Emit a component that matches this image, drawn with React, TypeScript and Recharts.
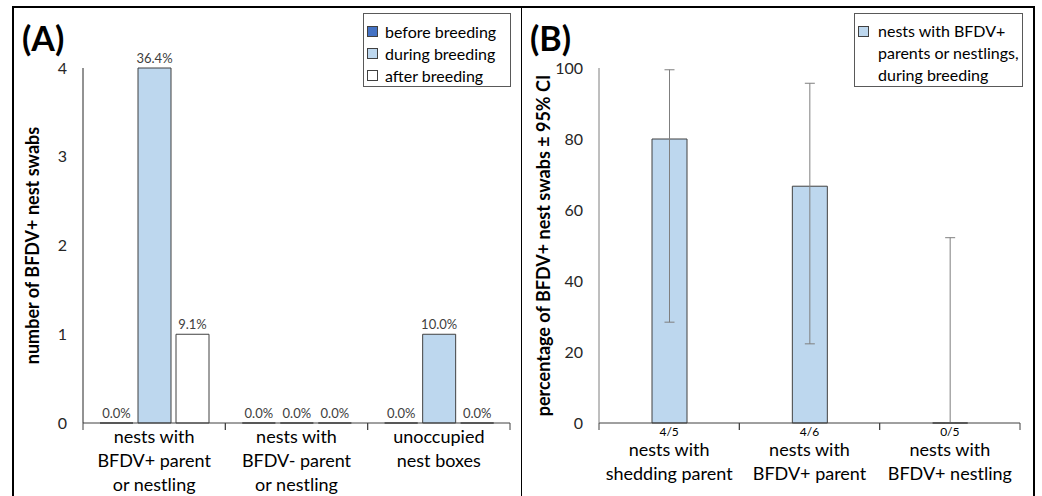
import { BarChart, Bar, XAxis, YAxis, LabelList, Legend, ErrorBar } from 'recharts'

// panel A: counts of BFDV+ nest swabs per nest group and period
const groupsA = ['nests with\nBFDV+ parent\nor nestling', 'nests with\nBFDV- parent\nor nestling', 'unoccupied\nnest boxes']
const seriesA = ['before breeding', 'during breeding', 'after breeding']
const beforeCounts = [0, 0, 0]
const duringCounts = [4, 0, 1]
const afterCounts = [1, 0, 0]
const beforePct = ['0.0%', '0.0%', '0.0%']
const duringPct = ['36.4%', '0.0%', '10.0%']
const afterPct = ['9.1%', '0.0%', '0.0%']
const ticksA = [0, 1, 2, 3, 4]

// panel B: percentage positive ± 95% CI
const groupsB = ['nests with\nshedding parent', 'nests with\nBFDV+ parent', 'nests with\nBFDV+ nestling']
const ratiosB = ['4/5', '4/6', '0/5']
const percentB = [80, 66.7, 0]
const ciLowB = [28.4, 22.3, 0]
const ciHighB = [99.5, 95.7, 52.2]
const ticksB = [0, 20, 40, 60, 80, 100]

const dataA = groupsA.map((g, i) => ({
  group: g,
  before: beforeCounts[i],
  during: duringCounts[i],
  after: afterCounts[i],
  beforePct: beforePct[i],
  duringPct: duringPct[i],
  afterPct: afterPct[i],
}))

const dataB = groupsB.map((g, i) => ({
  group: g,
  ratio: ratiosB[i],
  pct: percentB[i],
  err: [percentB[i] - ciLowB[i], ciHighB[i] - percentB[i]],
}))

const BAR_STROKE = '#404040'

const CatTickA = (props: any) => {
  const { x, y, payload } = props
  const half = payload?.offset ?? 71
  const lines = String(payload.value).split('\n')
  return (
    <g>
      <line x1={x - half} y1={y} x2={x - half} y2={y + 7} stroke="#404040" />
      <line x1={x + half} y1={y} x2={x + half} y2={y + 7} stroke="#404040" />
      {lines.map((l, i) => (
        <text key={i} x={x} y={y + 20 + i * 24} textAnchor="middle" fontSize={18} fill="#000">{l}</text>
      ))}
    </g>
  )
}

const CatTickB = (props: any) => {
  const { x, y, payload, index } = props
  const half = payload?.offset ?? 70
  const lines = String(payload.value).split('\n')
  return (
    <g>
      <line x1={x - half} y1={y} x2={x - half} y2={y + 7} stroke="#404040" />
      <line x1={x + half} y1={y} x2={x + half} y2={y + 7} stroke="#404040" />
      <text x={x} y={y + 13} textAnchor="middle" fontSize={12} fill="#000">{ratiosB[index]}</text>
      {lines.map((l, i) => (
        <text key={i} x={x} y={y + 33 + i * 24} textAnchor="middle" fontSize={18} fill="#000">{l}</text>
      ))}
    </g>
  )
}

const LegendA = ({ payload }: any) => {
  const items = [...(payload || [])].sort((a: any, b: any) => seriesA.indexOf(a.value) - seriesA.indexOf(b.value))
  return (
    <div style={{ border: '1px solid #595959', width: 148, height: 74, boxSizing: 'border-box', padding: '6px 0 0 3px', background: '#fff' }}>
      {items.map((p: any) => (
        <div key={p.value} style={{ display: 'flex', alignItems: 'center', height: 22, fontSize: 16, color: '#000' }}>
          <span style={{ width: 11, height: 11, boxSizing: 'border-box', border: '1px solid #404040', background: p.color, marginRight: 7 }} />
          {p.value}
        </div>
      ))}
    </div>
  )
}

const LegendB = ({ payload }: any) => (
  <div style={{ border: '1px solid #595959', width: 169, height: 74, boxSizing: 'border-box', padding: '6px 0 0 3px', background: '#fff', display: 'flex' }}>
    {(payload || []).map((p: any) => (
      <div key={p.value} style={{ display: 'flex', alignItems: 'flex-start' }}>
        <span style={{ width: 11, height: 11, flex: 'none', boxSizing: 'border-box', border: '1px solid #404040', background: p.color, marginRight: 9, marginTop: 6 }} />
        <span style={{ whiteSpace: 'pre-line', fontSize: 16, lineHeight: '22px', color: '#000' }}>{p.value}</span>
      </div>
    ))}
  </div>
)

export default function App() {
  return (
    <div style={{ position: 'absolute', left: 0, top: 0, width: 1042, height: 496, background: '#fff', fontFamily: 'Lato, sans-serif', overflow: 'hidden' }}>
      {/* frame */}
      <div style={{ position: 'absolute', left: 12, top: 6, width: 1023, height: 500, boxSizing: 'border-box', borderTop: '2px solid #000', borderLeft: '2px solid #000', borderRight: '2px solid #000' }} />
      <div style={{ position: 'absolute', left: 521, top: 6, width: 1, height: 500, background: '#000' }} />

      <div style={{ position: 'absolute', left: 0, top: 0 }}>
        <BarChart width={521} height={496} data={dataA} margin={{ top: 68, right: 11, bottom: 0, left: 23 }} barCategoryGap={17} barGap={5}>
          <XAxis dataKey="group" height={73} axisLine={{ stroke: '#404040' }} tickLine={false} tickSize={0} tickMargin={0} tick={<CatTickA />} interval={0} />
          <YAxis
            width={60}
            domain={[0, 4]}
            ticks={ticksA}
            axisLine={{ stroke: '#262626' }}
            tickLine={false}
            tickSize={0}
            tickMargin={16}
            tick={{ fontSize: 16, fill: '#262626' }}
            label={{ value: 'number of BFDV+ nest swabs', angle: -90, position: 'insideLeft', offset: 10, style: { textAnchor: 'middle', fontWeight: 'bold', fontSize: 18, fill: '#000' } }}
          />
          <Legend layout="horizontal" verticalAlign="middle" content={<LegendA />} wrapperStyle={{ left: 363, top: 13, width: 148 }} />
          <Bar dataKey="before" name={seriesA[0]} fill="#4472C4" stroke={BAR_STROKE} minPointSize={0.01} isAnimationActive={false}>
            <LabelList dataKey="beforePct" position="top" offset={5} fontSize={13} fill="#404040" />
          </Bar>
          <Bar dataKey="during" name={seriesA[1]} fill="#BDD7EE" stroke={BAR_STROKE} minPointSize={0.01} isAnimationActive={false}>
            <LabelList dataKey="duringPct" position="top" offset={5} fontSize={13} fill="#404040" />
          </Bar>
          <Bar dataKey="after" name={seriesA[2]} fill="#FFFFFF" stroke={BAR_STROKE} minPointSize={0.01} isAnimationActive={false}>
            <LabelList dataKey="afterPct" position="top" offset={5} fontSize={13} fill="#404040" />
          </Bar>
        </BarChart>
        <div style={{ position: 'absolute', left: 22, top: 17, fontSize: 34, fontWeight: 'bold', color: '#000' }}>(A)</div>
      </div>

      <div style={{ position: 'absolute', left: 521, top: 0 }}>
        <BarChart width={521} height={496} data={dataB} margin={{ top: 68, right: 22, bottom: 0, left: 18 }} barSize={35}>
          <XAxis dataKey="group" height={73} axisLine={{ stroke: '#404040' }} tickLine={false} tickSize={0} tickMargin={0} tick={<CatTickB />} interval={0} />
          <YAxis
            width={60}
            domain={[0, 100]}
            ticks={ticksB}
            axisLine={{ stroke: '#7f7f7f' }}
            tickLine={false}
            tickSize={0}
            tickMargin={16}
            tick={{ fontSize: 16, fill: '#262626' }}
            label={{ value: 'percentage of BFDV+ nest swabs ± 95% CI', angle: -90, position: 'insideLeft', offset: 5, style: { textAnchor: 'middle', fontWeight: 'bold', fontSize: 18, fill: '#000' } }}
          />
          <Legend layout="horizontal" verticalAlign="middle" content={<LegendB />} wrapperStyle={{ left: 333, top: 13, width: 169 }} />
          <Bar dataKey="pct" name={'nests with BFDV+\nparents or nestlings,\nduring breeding'} fill="#BDD7EE" stroke={BAR_STROKE} minPointSize={0.01} isAnimationActive={false}>
            <ErrorBar dataKey="err" width={5} stroke="#7f7f7f" strokeWidth={1} direction="y" isAnimationActive={false} />
          </Bar>
        </BarChart>
        <div style={{ position: 'absolute', left: 9, top: 17, fontSize: 34, fontWeight: 'bold', color: '#000' }}>(B)</div>
      </div>
    </div>
  )
}
